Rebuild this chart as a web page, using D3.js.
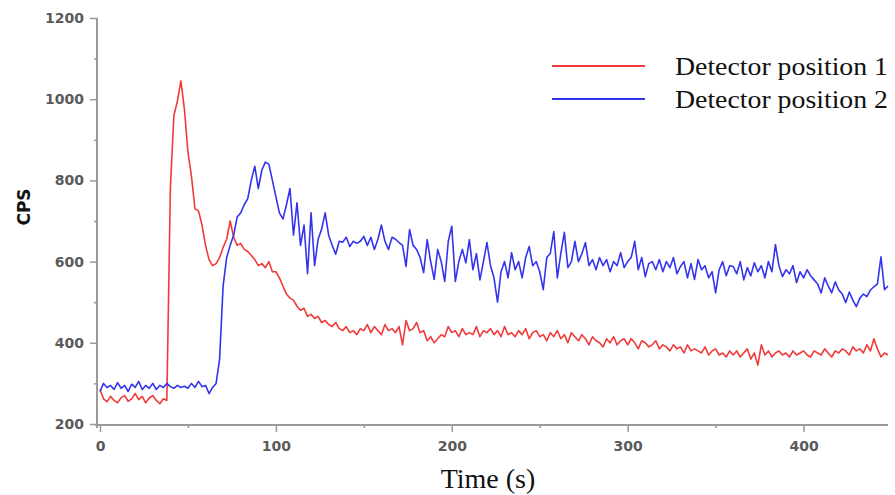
<!DOCTYPE html>
<html>
<head>
<meta charset="utf-8">
<script src="https://cdn.jsdelivr.net/npm/d3@7"></script>
<style>
  html, body { margin: 0; padding: 0; background: #fff; }
  svg { display: block; }
</style>
</head>
<body>
<svg id="chart" width="895" height="495"></svg>
<script>
// ---- data (time step 2 s, t = 0 .. 448) ----
const timeStep = 2;
const seriesNames = ["Detector position 1", "Detector position 2"];
const detector1 = [
  285,262,255,268,258, 252,265,270,256,262, 275,260,268,252,264, 270,258,250,262,258,
  780,960,995,1045,975, 870,810,730,725,690, 640,605,590,595,610, 635,655,700,660,640,
  645,630,625,615,605, 590,595,585,600,575, 575,560,540,520,510, 505,490,480,485,465,
  470,460,465,450,455, 445,440,450,435,430, 440,425,430,420,435, 430,445,425,440,430,
  420,445,430,435,425, 440,395,455,430,435, 450,425,430,405,415, 400,410,420,415,440,
  425,430,415,435,420, 425,420,440,415,430, 425,435,420,430,415, 440,420,425,415,430,
  420,435,410,425,430, 415,420,405,425,415, 430,410,420,400,425, 415,405,420,410,395,
  415,405,400,390,410, 400,415,395,405,410, 395,410,400,385,405, 400,390,395,405,385,
  395,390,380,395,385, 390,375,395,380,385, 380,375,390,370,380, 385,370,375,365,380,
  370,380,365,375,385, 360,375,345,395,370, 380,365,375,380,370, 375,365,380,370,375,
  380,370,365,380,375, 370,385,375,365,380, 375,385,380,370,390, 380,385,375,395,380,
  410,385,365,375,370
];
const detector2 = [
  280,300,290,295,285, 302,288,295,280,298, 290,305,285,295,288, 300,285,295,290,300,
  292,288,295,290,293, 288,300,290,305,292, 295,275,290,300,360, 540,610,640,665,710,
  720,740,755,800,835, 780,825,845,840,800, 760,720,705,740,780, 665,745,640,690,570,
  720,590,655,680,720, 665,640,618,650,648, 660,637,650,645,650, 662,640,660,630,655,
  690,650,630,660,655, 647,640,588,679,640, 630,610,573,654,600, 556,630,600,551,650,
  687,551,600,630,597, 654,580,620,555,600, 647,590,560,500,575, 600,560,622,580,600,
  560,610,637,590,600, 575,531,610,620,674, 560,620,672,585,600, 650,600,620,647,590,
  605,580,610,590,605, 575,600,590,622,585, 600,610,650,580,610, 563,595,600,580,605,
  575,600,585,610,570, 588,600,560,595,556, 605,580,590,560,575, 523,580,600,565,590,
  588,570,600,555,585, 565,597,575,590,560, 600,575,642,590,563, 580,570,590,548,575,
  560,580,565,555,545, 523,560,540,523,550, 530,520,499,525,505, 489,510,520,514,530,
  538,545,612,531,540
];
const xTickValues = [0, 100, 200, 300, 400];
const xMinorTicks = [50, 150, 250, 350];
const yTickValues = [200, 400, 600, 800, 1000, 1200];
const yMinorTicks = [300, 500, 700, 900, 1100];
const xLabel = "Time (s)";
const yLabel = "CPS";

// ---- drawing ----
const svg = d3.select("#chart");
const x = d3.scaleLinear().domain([0, 448]).range([100, 888]);
const y = d3.scaleLinear().domain([200, 1200]).range([424, 18]);

const axisColor = "#9a9a9a";
const tickFont = "'DejaVu Sans', sans-serif";

// y axis
const yAxisG = svg.append("g").attr("transform", "translate(97,0)");
yAxisG.call(d3.axisLeft(y).tickValues(yTickValues).tickSize(7).tickPadding(6).tickFormat(d3.format("d")));
yAxisG.append("g").call(d3.axisLeft(y).tickValues(yMinorTicks).tickSize(3).tickFormat(""));
yAxisG.selectAll(".domain").attr("stroke", axisColor).attr("stroke-width", 2);
yAxisG.select("g .domain").remove();
yAxisG.selectAll("line").attr("stroke", axisColor).attr("stroke-width", 1.5);
yAxisG.selectAll("text")
  .attr("font-family", tickFont).attr("font-weight", "bold").attr("font-size", 14)
  .attr("fill", "#5a5a5a");
yAxisG.select(".domain").attr("d", "M0,18V428");

// x axis
const xAxisG = svg.append("g").attr("transform", "translate(0,425)");
xAxisG.call(d3.axisBottom(x).tickValues(xTickValues).tickSize(7).tickPadding(9).tickFormat(d3.format("d")));
xAxisG.append("g").call(d3.axisBottom(x).tickValues(xMinorTicks).tickSize(3).tickFormat(""));
xAxisG.select("g .domain").remove();
xAxisG.select(".domain").attr("d", "M95,0H888").attr("stroke", axisColor).attr("stroke-width", 2);
xAxisG.selectAll("line").attr("stroke", axisColor).attr("stroke-width", 1.5);
xAxisG.selectAll("text")
  .attr("font-family", tickFont).attr("font-weight", "bold").attr("font-size", 14)
  .attr("fill", "#5a5a5a");

// axis labels
svg.append("text")
  .attr("x", 488).attr("y", 488)
  .attr("text-anchor", "middle")
  .attr("font-family", "'Liberation Serif', 'Times New Roman', serif")
  .attr("font-size", 28).attr("fill", "#111")
  .text(xLabel);

svg.append("text")
  .attr("transform", "translate(30,207) rotate(-90)")
  .attr("text-anchor", "middle")
  .attr("font-family", tickFont).attr("font-weight", "bold")
  .attr("font-size", 17).attr("fill", "#111")
  .text(yLabel);

// lines
const colors = ["#f03a3a", "#3434ee"];
const line = d3.line()
  .x((d, i) => x(i * timeStep))
  .y(d => y(d));

[detector1, detector2].forEach((data, k) => {
  svg.append("path")
    .datum(data)
    .attr("fill", "none")
    .attr("stroke", colors[k])
    .attr("stroke-width", 1.6)
    .attr("stroke-linejoin", "round")
    .attr("d", line);
});

// legend
const legendY = [66, 99];
seriesNames.forEach((name, k) => {
  svg.append("line")
    .attr("x1", 552).attr("x2", 645)
    .attr("y1", legendY[k]).attr("y2", legendY[k])
    .attr("stroke", colors[k]).attr("stroke-width", 2);
  svg.append("text")
    .attr("x", 675).attr("y", legendY[k] + 9)
    .attr("font-family", "'Liberation Serif', 'Times New Roman', serif")
    .attr("font-size", 25).attr("fill", "#111")
    .attr("textLength", 213).attr("lengthAdjust", "spacingAndGlyphs")
    .text(name);
});
</script>
</body>
</html>
